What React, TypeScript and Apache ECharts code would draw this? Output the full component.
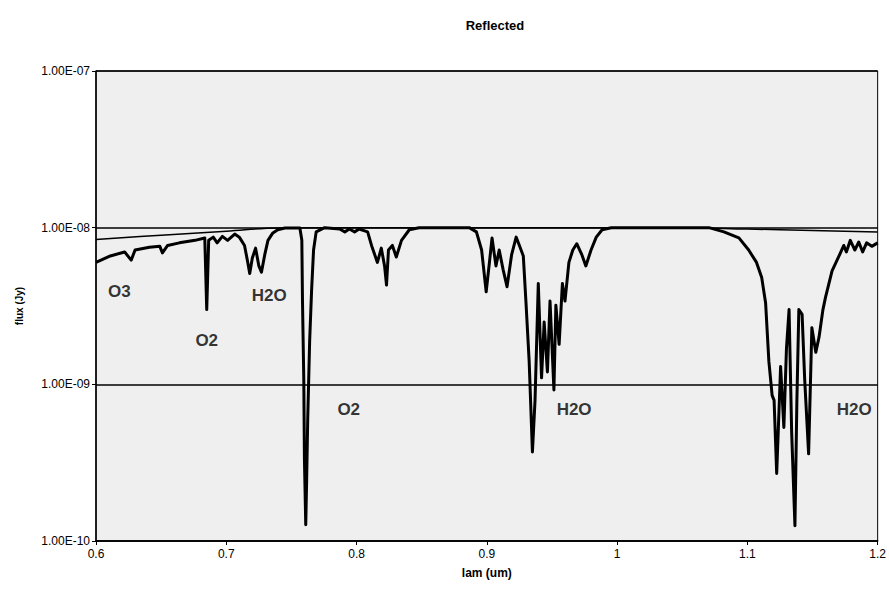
import React, { useEffect, useRef } from "react";
import * as echarts from "echarts";

const wavelengths = [
  0.6, 0.611, 0.622, 0.627, 0.63, 0.641, 0.649, 0.651, 0.655, 0.664, 0.676, 0.6835, 0.685, 0.6865,
  0.69, 0.693, 0.697, 0.701, 0.7065, 0.71, 0.714, 0.7165, 0.718, 0.72, 0.7225, 0.725, 0.727, 0.7295,
  0.732, 0.7355, 0.7395, 0.745, 0.7565, 0.758, 0.7585, 0.7595, 0.76, 0.761, 0.7617, 0.7625, 0.764,
  0.7655, 0.767, 0.769, 0.7755, 0.787, 0.791, 0.7945, 0.7985, 0.802, 0.8085, 0.8115, 0.816, 0.819,
  0.8215, 0.823, 0.8245, 0.8275, 0.8305, 0.8345, 0.8405, 0.848, 0.8865, 0.892, 0.896, 0.8995, 0.902,
  0.904, 0.907, 0.9095, 0.9125, 0.9155, 0.919, 0.9225, 0.925, 0.928, 0.93, 0.9325, 0.935, 0.937,
  0.9395, 0.942, 0.944, 0.9465, 0.9485, 0.9515, 0.953, 0.9555, 0.958, 0.96, 0.963, 0.966, 0.969,
  0.973, 0.976, 0.98, 0.984, 0.9885, 0.9955, 1.0705, 1.082, 1.0935, 1.101, 1.107, 1.111, 1.114,
  1.1165, 1.119, 1.1205, 1.1225, 1.124, 1.1255, 1.128, 1.13, 1.132, 1.134, 1.1365, 1.138, 1.1395,
  1.142, 1.144, 1.147, 1.1495, 1.1525, 1.155, 1.158, 1.16, 1.165, 1.17, 1.174, 1.176, 1.179, 1.1825,
  1.1855, 1.1885, 1.1915, 1.1955, 1.2,
];

const reflectedFlux = [
  6.0e-9, 6.6e-9, 7.0e-9, 6.2e-9, 7.2e-9, 7.5e-9, 7.6e-9, 6.9e-9, 7.7e-9, 8.0e-9, 8.3e-9, 8.6e-9, 3.0e-9, 8.3e-9,
  8.7e-9, 8.0e-9, 8.8e-9, 8.3e-9, 9.1e-9, 8.7e-9, 7.7e-9, 6.0e-9, 5.1e-9, 6.4e-9, 7.4e-9, 5.7e-9, 5.2e-9, 6.7e-9,
  8.3e-9, 9.2e-9, 9.7e-9, 9.95e-9, 9.95e-9, 8.3e-9, 3.4e-9, 1.07e-9, 3.3e-10, 1.27e-10, 2.45e-10, 5.9e-10, 1.9e-9,
  4.0e-9, 7.2e-9, 9.4e-9, 1.0e-8, 9.8e-9, 9.4e-9, 9.8e-9, 9.4e-9, 9.8e-9, 9.4e-9, 7.7e-9, 6.0e-9, 7.4e-9,
  5.7e-9, 4.3e-9, 7.2e-9, 7.7e-9, 6.5e-9, 8.3e-9, 9.7e-9, 1.0e-8, 1.0e-8, 9.4e-9, 7.2e-9, 3.9e-9, 6.0e-9,
  8.6e-9, 5.7e-9, 7.2e-9, 5.4e-9, 4.2e-9, 6.7e-9, 8.7e-9, 7.7e-9, 6.6e-9, 3.4e-9, 1.4e-9, 3.7e-10, 7.9e-10,
  4.4e-9, 1.1e-9, 2.5e-9, 1.2e-9, 3.4e-9, 9.2e-10, 3.2e-9, 1.8e-9, 4.4e-9, 3.4e-9, 6.0e-9, 7.2e-9, 7.9e-9,
  6.7e-9, 5.7e-9, 7.2e-9, 8.7e-9, 9.7e-9, 1.0e-8, 1.0e-8, 9.4e-9, 8.6e-9, 7.2e-9, 6.0e-9, 4.8e-9, 3.3e-9,
  1.4e-9, 8.5e-10, 7.9e-10, 2.7e-10, 5.9e-10, 1.3e-9, 5.3e-10, 1.7e-9, 3.0e-9, 4.9e-10, 1.25e-10, 7.9e-10, 3.0e-9,
  2.8e-9, 1.07e-9, 3.6e-10, 2.3e-9, 1.6e-9, 2.0e-9, 3.0e-9, 3.6e-9, 5.3e-9, 6.5e-9, 7.7e-9, 7.0e-9, 8.3e-9, 7.2e-9,
  8.1e-9, 7.0e-9, 8.0e-9, 7.6e-9, 8.0e-9,
];

const continuumWavelengths = [0.6, 0.65, 0.7, 0.74, 0.8, 1.05, 1.1, 1.15, 1.2];
const continuumFlux = [8.4e-9, 8.95e-9, 9.5e-9, 9.95e-9, 1.0e-8, 1.0e-8, 9.8e-9, 9.6e-9, 9.4e-9];

const bandLabels = ["O3", "O2", "H2O", "O2", "H2O", "H2O"];
const bandLabelWavelengths = [0.618, 0.685, 0.733, 0.794, 0.967, 1.182];
const bandLabelFlux = [3.9e-9, 1.9e-9, 3.7e-9, 6.9e-10, 6.9e-10, 6.9e-10];

const FONT = "'Liberation Sans', Arial, sans-serif";

function fmtExp(v: number): string {
  const s = v.toExponential(2).toUpperCase();
  const [m, e] = s.split("E");
  const neg = e[0] === "-";
  const digits = e.replace(/^[+-]/, "").padStart(2, "0");
  return `${m}E${neg ? "-" : ""}${digits}`;
}

export default function App() {
  const ref = useRef<HTMLDivElement>(null);
  useEffect(() => {
    if (!ref.current) return;
    const chart = echarts.init(ref.current, undefined, { renderer: "svg" });
    chart.setOption({
      animation: false,
      backgroundColor: "#ffffff",
      title: {
        text: "Reflected",
        left: 490,
        textAlign: "center",
        top: 14,
        textStyle: { fontFamily: FONT, fontSize: 13, fontWeight: "bold", color: "#000" },
      },
      grid: {
        left: 96,
        right: 10,
        top: 71,
        bottom: 51,
        show: true,
        backgroundColor: "#efefef",
        borderColor: "#000",
        borderWidth: 1,
      },
      xAxis: {
        type: "value",
        min: 0.6,
        max: 1.2,
        interval: 0.1,
        name: "lam (um)",
        nameLocation: "middle",
        nameGap: 26,
        nameTextStyle: { fontFamily: FONT, fontSize: 12, fontWeight: "bold", color: "#000" },
        axisLine: { show: true, lineStyle: { color: "#000", width: 1.5 } },
        axisTick: { show: true, inside: false, length: 4, lineStyle: { color: "#000" } },
        axisLabel: {
          fontFamily: FONT,
          fontSize: 12,
          color: "#000",
          margin: 7,
          formatter: (v: number) => String(Math.round(v * 10) / 10),
        },
        splitLine: { show: false },
      },
      yAxis: {
        type: "log",
        logBase: 10,
        min: 1e-10,
        max: 1e-7,
        name: "flux (Jy)",
        nameLocation: "middle",
        nameGap: 72,
        nameRotate: 90,
        nameTextStyle: { fontFamily: FONT, fontSize: 10, fontWeight: "bold", color: "#000" },
        axisLine: { show: true, lineStyle: { color: "#000", width: 1.5 } },
        axisTick: { show: true, inside: false, length: 4, lineStyle: { color: "#000" } },
        axisLabel: {
          fontFamily: FONT,
          fontSize: 12,
          color: "#000",
          margin: 6,
          formatter: (v: number) => fmtExp(v),
        },
        splitLine: { show: true, lineStyle: { color: "#000", width: 1.5 } },
        minorTick: { show: false },
      },
      series: [
        {
          type: "line",
          name: "continuum",
          data: continuumWavelengths.map((x, i) => [x, continuumFlux[i]]),
          smooth: 0.4,
          showSymbol: false,
          lineStyle: { color: "#000", width: 1.5 },
          z: 2,
        },
        {
          type: "line",
          name: "reflected",
          data: wavelengths.map((x, i) => [x, reflectedFlux[i]]),
          showSymbol: false,
          lineStyle: { color: "#000", width: 3, join: "round" },
          z: 3,
        },
        {
          type: "scatter",
          name: "bands",
          symbolSize: 0,
          data: bandLabels.map((n, i) => ({ name: n, value: [bandLabelWavelengths[i], bandLabelFlux[i]] })),
          label: {
            show: true,
            position: "inside",
            formatter: (p: any) => p.name,
            fontFamily: FONT,
            fontSize: 17,
            fontWeight: "bold",
            color: "#000",
          },
          z: 4,
        },
      ],
    });
    return () => chart.dispose();
  }, []);
  return <div ref={ref} style={{ width: 889, height: 592, position: "absolute", left: 0, top: 0 }} />;
}
